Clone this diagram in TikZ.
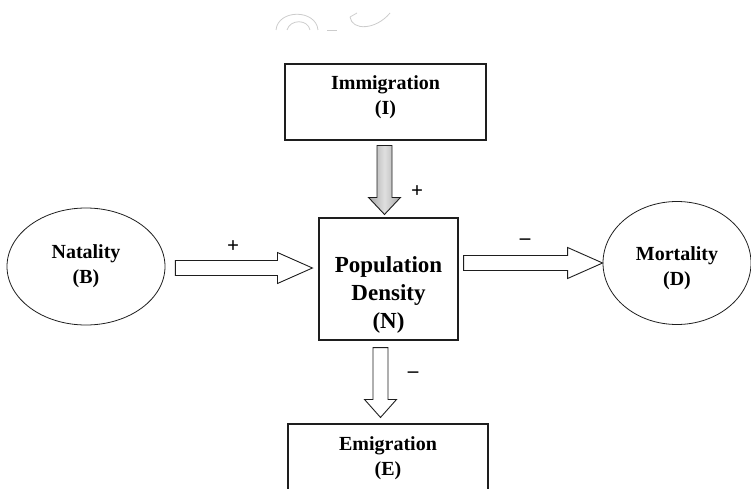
\documentclass[tikz,border=0pt]{standalone}
\usepackage{fontspec}
\setmainfont{Liberation Serif}
\usetikzlibrary{positioning,calc,shapes.geometric}
\definecolor{inkline}{HTML}{1E1E1E}
\colorlet{flowgray}{gray!70}

\tikzset{
  factor/.style={ellipse, draw=inkline, line width=0.8pt, inner sep=0pt,
                 align=center, font=\bfseries\fontsize{20}{25}\selectfont},
  stock/.style={rectangle, draw=inkline, line width=1.1pt, inner sep=0pt,
                align=center, font=\bfseries\fontsize{20}{25}\selectfont},
  flowline/.style={draw=inkline, line width=0.9pt, fill=white, line join=miter},
  sign/.style={font=\bfseries\fontsize{21}{21}\selectfont, inner sep=0pt}
}

% block arrows between named points: tail, tip, head length
\newcommand{\flowright}[4][]{%
  \draw[flowline,#1] ($(#2)+(0,-7.5)$) -- ($(#3)+(-#4,-7.5)$) -- ($(#3)+(-#4,-15.5)$)
    -- (#3) -- ($(#3)+(-#4,15.5)$) -- ($(#3)+(-#4,7.5)$) -- ($(#2)+(0,7.5)$) -- cycle;}
\newcommand{\flowdown}[4][]{%
  \draw[flowline,#1] ($(#2)+(-7.5,0)$) -- ($(#3)+(-7.5,-#4)$) -- ($(#3)+(-16,-#4)$)
    -- (#3) -- ($(#3)+(16,-#4)$) -- ($(#3)+(7.5,-#4)$) -- ($(#2)+(7.5,0)$) -- cycle;}

\begin{document}
\begin{tikzpicture}[x=1pt, y=-1pt]
  \useasboundingbox (0,0) rectangle (751,489);

  % faint mark at the top edge
  \draw[gray!40, line width=0.8pt] (276,30) .. controls (278,9) and (316,9) .. (318,30);
  \draw[gray!40, line width=0.8pt] (287,30) .. controls (290,19) and (308,19) .. (310,30);
  \draw[gray!40, line width=0.8pt] (327,30) -- (337,30);
  \draw[gray!40, line width=0.8pt] (350,17) .. controls (352,31) and (376,30) .. (390,13);
  \draw[gray!40, line width=0.8pt] (350,17) -- (357,13);

  % the four factors round the population
  \node[stock, minimum width=201pt, minimum height=76pt,
        label={[font=\bfseries\fontsize{20}{25}\selectfont, align=center, yshift=5pt]center:Immigration\\(I)}]
    (imm) at (385.5,102) {};
  \node[stock, minimum width=139pt, minimum height=122pt,
        label={[font=\bfseries\fontsize{23}{28}\selectfont, align=center, yshift=-16pt]center:Population\\Density\\(N)}]
    (pop) at (388.5,279) {};
  \node[factor, minimum width=158pt, minimum height=117pt] (nat) at (86,266.5)
    {Natality\\(B)};
  \node[factor, minimum width=148pt, minimum height=123pt,
        label={[font=\bfseries\fontsize{20}{25}\selectfont, align=center, yshift=-5pt]center:Mortality\\(D)}]
    (mor) at (677,263) {};
  \node[stock, minimum width=200pt, minimum height=68pt] (emi) at (388,458)
    {Emigration\\(E)};

  % arrow ends
  \coordinate (natout) at ($(nat.east)+(10,1.5)$);
  \coordinate (popin) at ($(natout -| pop.west)+(-6,0)$);
  \coordinate (popout) at ($(pop.east |- mor.west)+(5,0)$);
  \coordinate (morin) at (mor.west);
  \coordinate (immout) at ($(imm.south)+(-1,5)$);
  \coordinate (poptop) at ($(immout |- pop.north)+(0,-3)$);
  \coordinate (popbot) at ($(pop.south)+(-8,7)$);
  \coordinate (emitop) at ($(popbot |- emi.north)+(0,-6)$);

  \flowright{natout}{popin}{35}
  \flowright{popout}{morin}{35}
  \flowdown[left color=flowgray, right color=flowgray, middle color=gray!25]{immout}{poptop}{17}
  \flowdown{popbot}{emitop}{18}

  \node[sign] (natsign) at (233,247) {+};
  \node[sign] (immsign) at (417,192) {+};
  \node[sign] (morsign) at (525,242) {–};
  \node[sign] (emisign) at (413,375) {–};
\end{tikzpicture}
\end{document}
